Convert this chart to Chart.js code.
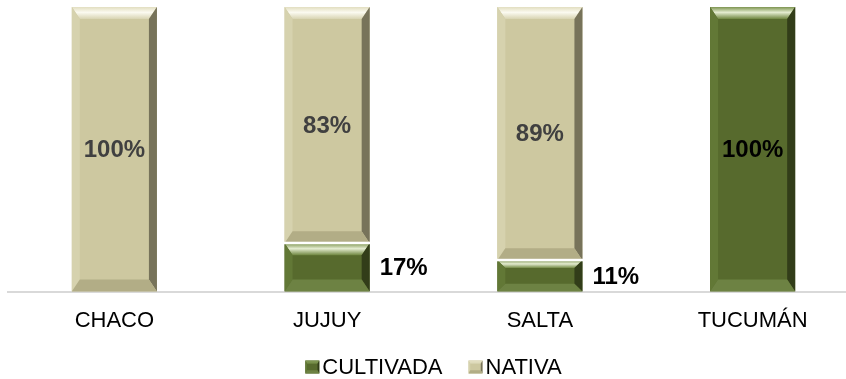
<!DOCTYPE html>
<html>
<head>
<meta charset="utf-8">
<script src="https://cdn.jsdelivr.net/npm/chart.js@4.4.1/dist/chart.umd.min.js"></script>
<style>
  html, body { margin: 0; padding: 0; background: #fff; overflow: hidden; }
</style>
</head>
<body>
<canvas id="grafico" width="860" height="379"></canvas>
<script>
const categorias = ['CHACO', 'JUJUY', 'SALTA', 'TUCUMÁN'];
const cultivada = [0, 17, 11, 100];
const nativa = [100, 83, 89, 0];

const fuente = '"Liberation Sans", Arial, sans-serif';

const tonos = {
    cultivada: { base: '#576a2d', luz1: '#7d9450', brillo: '#e4ecd0', luz2: '#6f8640', izq: '#627836', der: '#323d19', abajo: '#6d8243', texto: '#000000' },
    nativa: { base: '#cdc8a0', luz1: '#e2dec0', brillo: '#fbfaf0', luz2: '#d8d4b2', izq: '#d6d2ae', der: '#77735a', abajo: '#b2ad86', texto: '#404040' }
};

function poly(ctx, pts, fill) {
    ctx.beginPath();
    ctx.moveTo(pts[0][0], pts[0][1]);
    for (let i = 1; i < pts.length; i++) ctx.lineTo(pts[i][0], pts[i][1]);
    ctx.closePath();
    ctx.fillStyle = fill;
    ctx.fill();
}

function bisel(ctx, l, t, r, b, c) {
    const sy = Math.min(12, (b - t) / 4);
    const sx = Math.min(8, (r - l) / 8);
    let g = ctx.createLinearGradient(0, t, 0, t + sy);
    g.addColorStop(0, c.luz1);
    g.addColorStop(0.45, c.brillo);
    g.addColorStop(1, c.luz2);
    poly(ctx, [[l, t], [r, t], [r - sx, t + sy], [l + sx, t + sy]], g);
    poly(ctx, [[l, t], [l + sx, t + sy], [l + sx, b - sy], [l, b]], c.izq);
    poly(ctx, [[r, t], [r, b], [r - sx, b - sy], [r - sx, t + sy]], c.der);
    poly(ctx, [[l, b], [l + sx, b - sy], [r - sx, b - sy], [r, b]], c.abajo);
}

const biselPlugin = {
    id: 'bisel',
    afterDatasetsDraw(chart) {
        const ctx = chart.ctx;
        ctx.save();
        chart.data.datasets.forEach((ds, di) => {
            const meta = chart.getDatasetMeta(di);
            meta.data.forEach((bar, i) => {
                if (!ds.data[i]) return;
                const p = bar.getProps(['x', 'y', 'base', 'width'], true);
                const l = p.x - p.width / 2, r = p.x + p.width / 2;
                const t = Math.min(p.y, p.base), b = Math.max(p.y, p.base);
                bisel(ctx, l, t, r, b, tonos[ds.clave]);
            });
        });
        // separador blanco entre segmentos apilados
        const m0 = chart.getDatasetMeta(0);
        m0.data.forEach((bar, i) => {
            if (cultivada[i] && nativa[i]) {
                const p = bar.getProps(['x', 'y', 'width'], true);
                ctx.fillStyle = '#ffffff';
                ctx.fillRect(p.x - p.width / 2 - 1, p.y - 1.5, p.width + 2, 2.5);
            }
        });
        ctx.restore();
    }
};

const etiquetasPlugin = {
    id: 'etiquetas',
    afterDatasetsDraw(chart) {
        const ctx = chart.ctx;
        ctx.save();
        ctx.font = 'bold 24px ' + fuente;
        ctx.textBaseline = 'middle';
        chart.data.datasets.forEach((ds, di) => {
            const meta = chart.getDatasetMeta(di);
            meta.data.forEach((bar, i) => {
                const v = ds.data[i];
                if (!v) return;
                const p = bar.getProps(['x', 'y', 'base', 'width'], true);
                const yc = (p.y + p.base) / 2;
                ctx.fillStyle = tonos[ds.clave].texto;
                if (v < 30) {
                    ctx.textAlign = 'left';
                    ctx.fillText(v + '%', p.x + p.width / 2 + 10, yc + 1);
                } else {
                    ctx.textAlign = 'center';
                    ctx.fillText(v + '%', p.x, yc + 1);
                }
            });
        });
        ctx.restore();
    }
};

const leyendaPlugin = {
    id: 'leyenda',
    afterDraw(chart) {
        const ctx = chart.ctx;
        const area = chart.chartArea;
        ctx.save();
        ctx.font = '22px ' + fuente;
        ctx.textBaseline = 'middle';
        ctx.textAlign = 'left';
        const caja = 14, sep = 3, hueco = 26;
        const items = chart.data.datasets.map(ds => ({ texto: ds.label, c: tonos[ds.clave], w: ctx.measureText(ds.label).width }));
        let total = 0;
        items.forEach((it, k) => { total += caja + sep + it.w + (k ? hueco : 0); });
        let x = (area.left + area.right) / 2 - total / 2;
        const y = 367;
        items.forEach(it => {
            ctx.fillStyle = it.c.base;
            ctx.fillRect(x, y - 6.5, caja, 13);
            bisel(ctx, x, y - 6.5, x + caja, y + 6.5, Object.assign({}, it.c, { brillo: it.c.luz1 }));
            ctx.fillStyle = '#000000';
            ctx.fillText(it.texto, x + caja + sep, y + 1);
            x += caja + sep + it.w + hueco;
        });
        ctx.restore();
    }
};

new Chart(document.getElementById('grafico'), {
    type: 'bar',
    data: {
        labels: categorias,
        datasets: [
            { label: 'CULTIVADA', clave: 'cultivada', data: cultivada, backgroundColor: tonos.cultivada.base, borderWidth: 0 },
            { label: 'NATIVA', clave: 'nativa', data: nativa, backgroundColor: tonos.nativa.base, borderWidth: 0 }
        ]
    },
    options: {
        responsive: false,
        animation: false,
        barPercentage: 0.4,
        categoryPercentage: 1,
        layout: { padding: { left: 8, right: 1, top: 7, bottom: 29 } },
        scales: {
            x: {
                stacked: true,
                grid: { display: false, drawTicks: false },
                border: { color: '#d9d9d9', width: 2 },
                ticks: { color: '#000000', font: { family: fuente, size: 22 }, padding: 16 }
            },
            y: {
                stacked: true,
                display: false,
                min: 0,
                max: 100
            }
        },
        plugins: {
            legend: { display: false },
            tooltip: { enabled: false }
        }
    },
    plugins: [biselPlugin, etiquetasPlugin, leyendaPlugin]
});
</script>
</body>
</html>
